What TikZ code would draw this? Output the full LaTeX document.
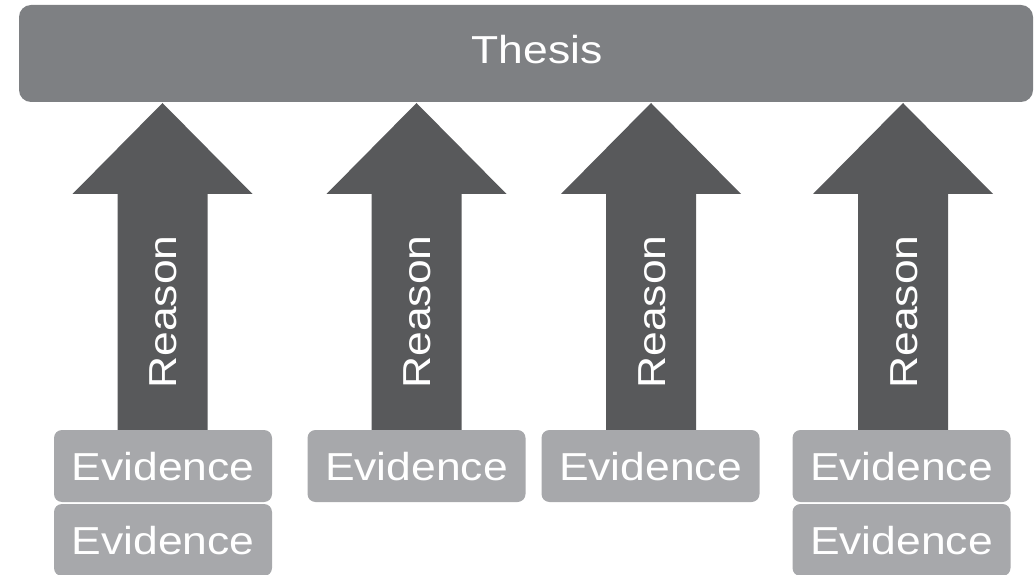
\documentclass[tikz,border=0pt]{standalone}
\usepackage{fontspec}
\setmainfont[FakeStretch=1.14]{Liberation Sans}
\usetikzlibrary{calc}
\definecolor{thesisgray}{RGB}{126,128,131}
\definecolor{arrowgray}{RGB}{88,89,91}
\definecolor{evgray}{RGB}{167,168,171}
\tikzset{
  lbl/.style={text=white,font=\fontsize{39}{39}\selectfont,text height=28pt,text depth=0pt,inner sep=0pt},
  evid/.style={lbl,fill=evgray,rounded corners=8pt,minimum width=218pt,minimum height=72pt},
  rsn/.style={lbl,rotate=90}
}

\begin{document}
\begin{tikzpicture}[x=1pt,y=1pt]
  \useasboundingbox (0,0) rectangle (1034,574);
  % thesis bar
  \fill[thesisgray,rounded corners=12pt] (19,472) rectangle (1033,569);
  \node[lbl](thesis)at(537,524){Thesis};
  % reason arrows
  \foreach \x/\n in {162.5/1,416.5/2,651/3,903/4}{
    \fill[arrowgray] (\x-45,144) -- (\x-45,380) -- (\x-90,380) -- (\x,471)
      -- (\x+90,380) -- (\x+45,380) -- (\x+45,144) -- cycle;
    \node[rsn](r\n)at(\x,262){Reason};
  }
  % evidence
  \node[evid](e1)at(163,108){Evidence};
  \node[evid](e1b)at(163,34){Evidence};
  \node[evid](e2)at(416.5,108){Evidence};
  \node[evid](e3)at(650.5,108){Evidence};
  \node[evid](e4)at(901.5,108){Evidence};
  \node[evid](e4b)at(901.5,34){Evidence};
\end{tikzpicture}
\end{document}
